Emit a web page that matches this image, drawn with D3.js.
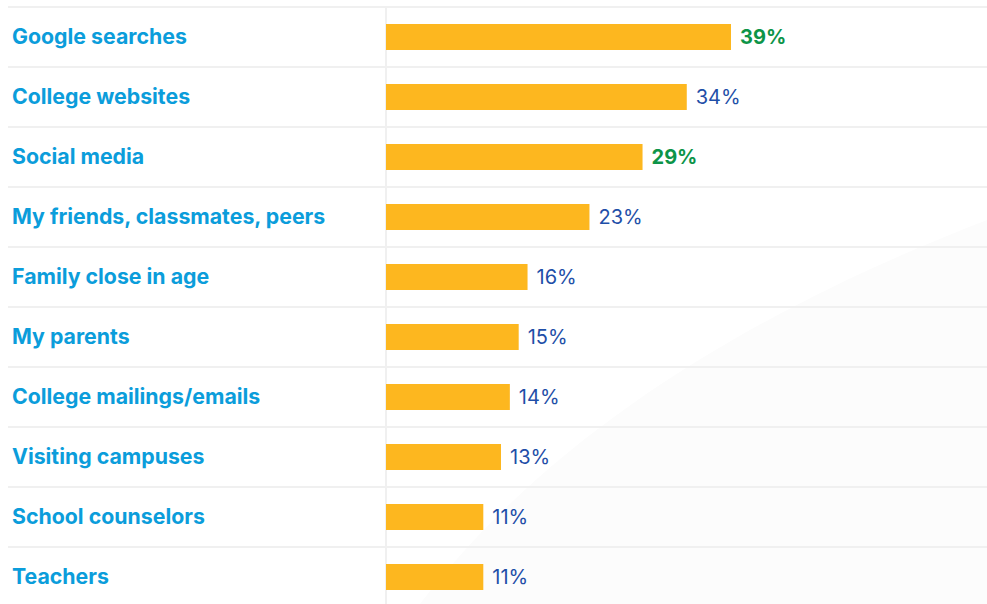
<!DOCTYPE html>
<html>
<head>
<meta charset="utf-8">
<script src="https://cdn.jsdelivr.net/npm/d3@7"></script>
<style>
  body { margin: 0; background: #fff; }
  svg { display: block; font-family: Inter, "Noto Sans", sans-serif; }
</style>
</head>
<body>
<div id="chart"></div>
<script>
var categories = ["Google searches", "College websites", "Social media",
  "My friends, classmates, peers", "Family close in age", "My parents",
  "College mailings/emails", "Visiting campuses", "School counselors", "Teachers"];
var values = [39, 34, 29, 23, 16, 15, 14, 13, 11, 11];
var highlighted = ["Google searches", "Social media"];

var csize = [987, 604];

var svg = d3.select("#chart").append("svg")
  .attr("width", csize[0])
  .attr("height", csize[1]);

// faint background swoosh
svg.append("path")
  .attr("d", "M420,604 C560,420 780,300 987,220 L987,604 Z")
  .style("fill", "#fcfcfc");

var data = categories.map(function (c, i) {
  return {name: c, value: values[i]};
});

var y = d3.scaleBand()
  .domain(categories)
  .range([7, 607]);

var x = d3.scaleLinear()
  .domain([0, 39])
  .range([386, 731]);

// row separators
svg.selectAll(".sep")
  .data(categories).enter()
  .append("line")
    .attr("class", "sep")
    .attr("x1", 8).attr("x2", csize[0])
    .attr("y1", function (d) { return y(d); })
    .attr("y2", function (d) { return y(d); })
    .style("stroke", "#f0f0f0")
    .style("stroke-width", 2);

// baseline
svg.append("line")
  .attr("x1", x(0)).attr("x2", x(0))
  .attr("y1", 7).attr("y2", csize[1])
  .style("stroke", "#f0f0f0")
  .style("stroke-width", 2);

var rows = svg.selectAll(".row")
  .data(data).enter()
  .append("g")
    .attr("class", "row")
    .attr("transform", function (d) { return "translate(0," + (y(d.name) + y.bandwidth() / 2) + ")"; });

rows.append("rect")
  .attr("x", x(0))
  .attr("y", -13)
  .attr("height", 26)
  .attr("width", function (d) { return x(d.value) - x(0); })
  .style("fill", "#fdb71f");

rows.append("text")
  .attr("x", 12)
  .attr("dy", "0.35em")
  .style("font-size", "21.3px")
  .style("font-weight", 700)
  .style("fill", "#0b9ddb")
  .text(function (d) { return d.name; });

rows.append("text")
  .attr("x", function (d) { return x(d.value) + 9; })
  .attr("dy", "0.35em")
  .style("font-size", "20px")
  .style("font-weight", function (d) { return highlighted.indexOf(d.name) >= 0 ? 700 : 400; })
  .style("fill", function (d) { return highlighted.indexOf(d.name) >= 0 ? "#0d9448" : "#1f4fa8"; })
  .text(function (d) { return d.value + "%"; });
</script>
</body>
</html>
